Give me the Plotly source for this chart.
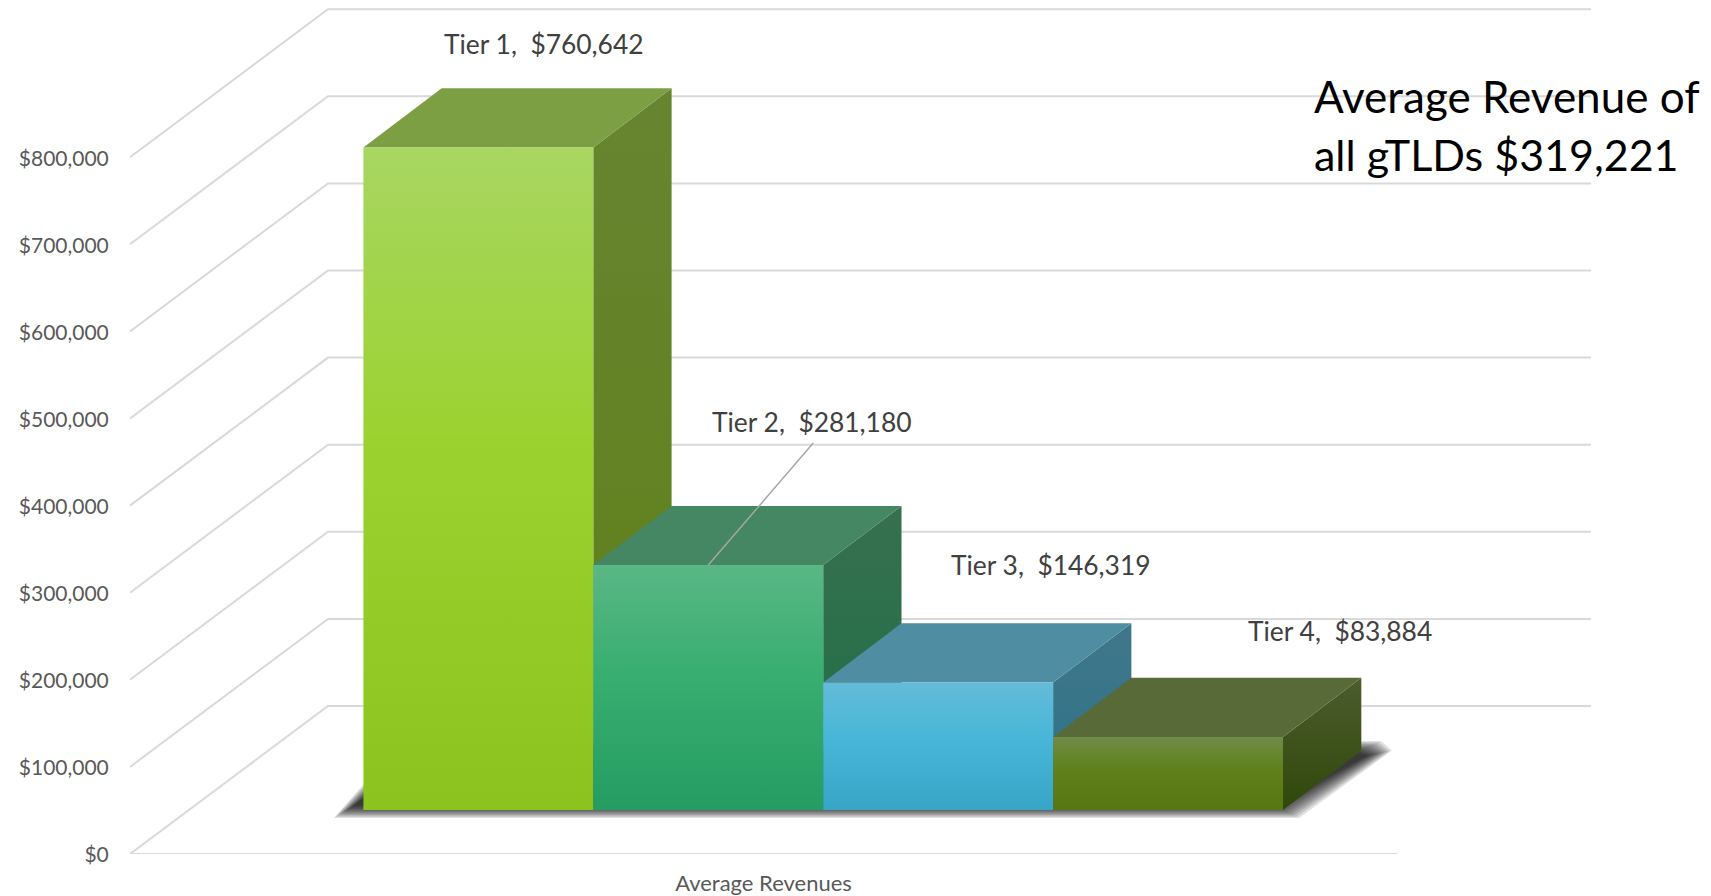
import plotly.graph_objects as go

# ---- data ----
tiers = ["Tier 1", "Tier 2", "Tier 3", "Tier 4"]
revenues = [760642, 281180, 146319, 83884]
y_ticks = [0, 100000, 200000, 300000, 400000, 500000, 600000, 700000, 800000]
category = "Average Revenues"
note_lines = ["Average Revenue of", "all gTLDs $319,221"]

# ---- geometry of the oblique projection (axis units) ----
PX_PER_X = 229.9
PX_PER_USD = 87.1 / 100000
FIG_W, FIG_H = 1711, 896
PLOT_L, PLOT_R, PLOT_T, PLOT_B = 130, 1591, 0, 854
BAR0_PX = 363.4


def dx(px):
    return px / PX_PER_X


def dy(px):
    return px / PX_PER_USD


X0 = dx(PLOT_L - BAR0_PX)
X1 = dx(PLOT_R - BAR0_PX)
BASE = dy(44)
BAR_DX, BAR_DY = dx(78.3), dy(59.2)
WALL_DX, WALL_DY = dx(198), dy(148)
FLOOR_R = dx(1397 - BAR0_PX)

GRID = "#d9d9d9"
FONT = "Lato"

fronts = [
    [[0, "#8dc31f"], [0.55, "#9cd22f"], [1, "#a8d661"]],
    [[0, "#259c62"], [0.55, "#38ae70"], [1, "#5ab786"]],
    [[0, "#37a5c6"], [0.55, "#47b6d8"], [1, "#64bbd8"]],
    [[0, "#577712"], [0.55, "#5f801c"], [1, "#708c48"]],
]
tops = ["#7c9f43", "#448762", "#4e8da2", "#576a38"]
sides = [
    [[0, "#5f8018"], [1, "#678531"]],
    [[0, "#1d6e46"], [1, "#37704f"]],
    [[0, "#2b7488"], [1, "#41768a"]],
    [[0, "#30480a"], [1, "#4c5c2e"]],
]

fig = go.Figure()


def line(xs, ys, color=GRID, width=2):
    fig.add_trace(go.Scatter(x=xs, y=ys, mode="lines", line=dict(color=color, width=width),
                             hoverinfo="skip", showlegend=False, cliponaxis=False))


def poly(xs, ys, color=None, scale=None):
    kw = dict(fillcolor=color) if color else dict(
        fillgradient=dict(type="vertical", colorscale=scale))
    fig.add_trace(go.Scatter(x=xs + xs[:1], y=ys + ys[:1], mode="lines", fill="toself",
                             line=dict(width=0), hoverinfo="skip", showlegend=False,
                             cliponaxis=False, **kw))


# walls and floor gridlines
for t in y_ticks:
    line([X0, X0 + WALL_DX, X1], [t, t + WALL_DY, t + WALL_DY])
line([X0, FLOOR_R], [0, 0])

# soft shadow on the floor: stacked translucent outlines stand in for a blur
n = len(revenues)
for grow in [6, 4.8, 3.6, 2.4, 1.2, 0, -1.2, -2.4, -3.6, -4.8, -6]:
    g_x, g_y = dx(grow), dy(grow)
    poly([dx(-20) - 1.6 * g_x, n + dx(4) + 2 * g_x, n + dx(97) + 2 * g_x,
          n + dx(86) + 2 * g_x, dx(48) - 1.6 * g_x],
         [BASE - dy(2) - g_y, BASE - dy(2) - g_y, BASE + dy(57) + g_y * 0.4,
          BASE + dy(63) + g_y, BASE + dy(63) + g_y],
         color="rgba(0,0,0,0.12)")

# bars, left to right
for i, v in enumerate(revenues):
    top = BASE + v
    poly([i + 1, i + 1 + BAR_DX, i + 1 + BAR_DX, i + 1],
         [BASE, BASE + BAR_DY, top + BAR_DY, top], scale=sides[i])
    poly([i, i + 1, i + 1 + BAR_DX, i + BAR_DX],
         [top, top, top + BAR_DY, top + BAR_DY], color=tops[i])
    poly([i, i + 1, i + 1, i], [BASE, BASE, top, top], scale=fronts[i])

# leader line of the Tier 2 label
line([1.5, 1.5 + dx(105)], [BASE + revenues[1], BASE + revenues[1] + dy(122)],
     color="#a6a6a6", width=1.5)

# data labels
label_shift = [(65.6, 103.5), (104, 143), (113, 118), (172, 106)]
annotations = []
for i, (name, v) in enumerate(zip(tiers, revenues)):
    annotations.append(dict(
        x=i + 0.5, y=BASE + v, xref="x", yref="y", showarrow=False,
        xshift=label_shift[i][0], yshift=label_shift[i][1],
        text=f"{name},\u00a0\u00a0${v:,}", font=dict(family=FONT, size=26.4, color="#404040")))

# free text note (paper coordinates of the plot area)
plot_w, plot_h = PLOT_R - PLOT_L, PLOT_B - PLOT_T
for text, ypx, size in zip(note_lines, [96, 155], [44, 43]):
    annotations.append(dict(
        x=(1312 - PLOT_L) / plot_w, y=1 - (ypx - PLOT_T) / plot_h,
        xref="paper", yref="paper", showarrow=False,
        xanchor="left", yanchor="middle", text=text,
        font=dict(family=FONT, size=size, color="#000000")))

fig.update_layout(
    width=FIG_W, height=FIG_H,
    margin=dict(l=PLOT_L, r=FIG_W - PLOT_R, t=PLOT_T, b=FIG_H - PLOT_B, pad=0),
    paper_bgcolor="white", plot_bgcolor="white", showlegend=False,
    annotations=annotations,
    xaxis=dict(range=[X0, X1], showgrid=False, zeroline=False, showline=False, automargin=False,
               tickmode="array", tickvals=[(X0 + FLOOR_R) / 2], ticktext=[category],
               ticks="outside", ticklen=10, tickcolor="rgba(0,0,0,0)",
               tickfont=dict(family=FONT, size=22, color="#595959")),
    yaxis=dict(range=[0, dy(854)], showgrid=False, zeroline=False, showline=False, automargin=False,
               tickmode="array", tickvals=y_ticks, tickformat="$,", ticklabelshift=1,
               ticks="outside", ticklen=16, tickcolor="rgba(0,0,0,0)",
               tickfont=dict(family=FONT, size=21, color="#595959")),
)

fig.write_html("out.html", config=dict(displayModeBar=False),
               post_script="document.body.style.margin='0';document.documentElement.style.overflow='hidden';")
